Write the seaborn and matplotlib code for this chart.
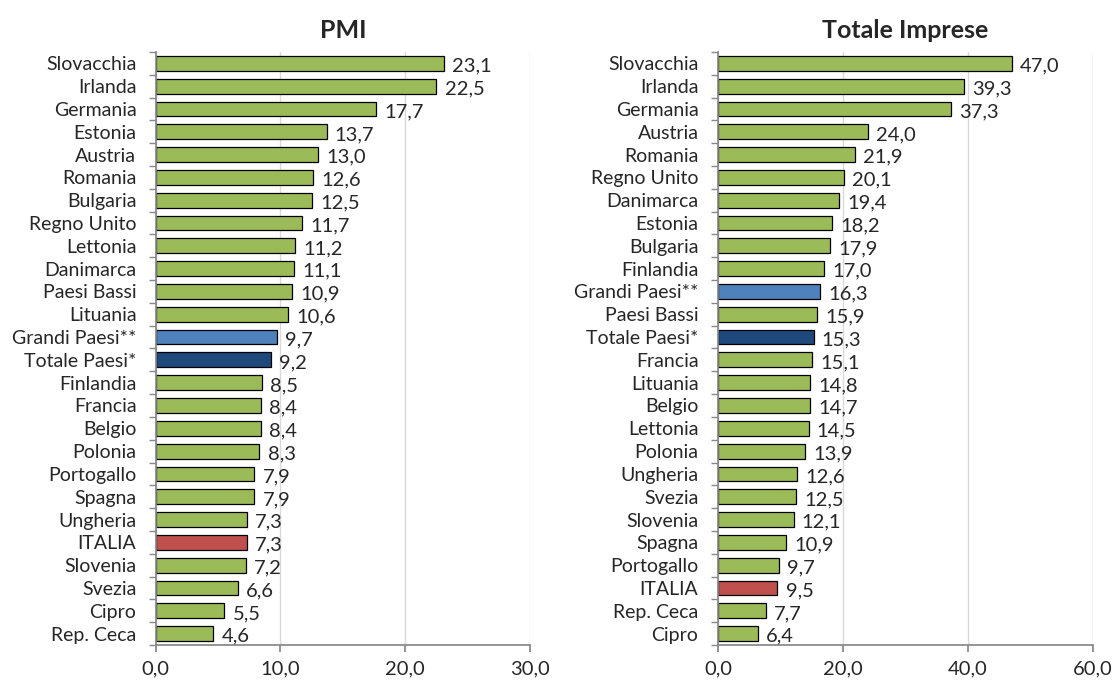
import numpy as np
import matplotlib
matplotlib.use("Agg")
import matplotlib.pyplot as plt
import seaborn as sns
import pandas as pd

# PMI
pmi_paesi = ["Slovacchia", "Irlanda", "Germania", "Estonia", "Austria", "Romania",
             "Bulgaria", "Regno Unito", "Lettonia", "Danimarca", "Paesi Bassi",
             "Lituania", "Grandi Paesi**", "Totale Paesi*", "Finlandia", "Francia",
             "Belgio", "Polonia", "Portogallo", "Spagna", "Ungheria", "ITALIA",
             "Slovenia", "Svezia", "Cipro", "Rep. Ceca"]
pmi_valori = [23.1, 22.5, 17.7, 13.7, 13.0, 12.6, 12.5, 11.7, 11.2, 11.1, 10.9,
              10.6, 9.7, 9.2, 8.5, 8.4, 8.4, 8.3, 7.9, 7.9, 7.3, 7.3, 7.2, 6.6,
              5.5, 4.6]

# Totale imprese
tot_paesi = ["Slovacchia", "Irlanda", "Germania", "Austria", "Romania", "Regno Unito",
             "Danimarca", "Estonia", "Bulgaria", "Finlandia", "Grandi Paesi**",
             "Paesi Bassi", "Totale Paesi*", "Francia", "Lituania", "Belgio",
             "Lettonia", "Polonia", "Ungheria", "Svezia", "Slovenia", "Spagna",
             "Portogallo", "ITALIA", "Rep. Ceca", "Cipro"]
tot_valori = [47.0, 39.3, 37.3, 24.0, 21.9, 20.1, 19.4, 18.2, 17.9, 17.0, 16.3,
              15.9, 15.3, 15.1, 14.8, 14.7, 14.5, 13.9, 12.6, 12.5, 12.1, 10.9,
              9.7, 9.5, 7.7, 6.4]

colori_speciali = {"ITALIA": "#C0504D", "Grandi Paesi**": "#4F81BD",
                   "Totale Paesi*": "#1F497D"}
verde = "#9BBB59"

sns.set_theme(style="white")
plt.rcParams["font.family"] = ["Lato", "DejaVu Sans"]

fig = plt.figure(figsize=(11.13, 6.88), dpi=100)
ax1 = fig.add_axes([0.140, 0.0625, 0.336, 0.862])
ax2 = fig.add_axes([0.645, 0.0625, 0.337, 0.862])


def pannello(ax, paesi, valori, titolo, xmax, step):
    df = pd.DataFrame({"paese": paesi, "valore": valori})
    pal = {p: colori_speciali.get(p, verde) for p in paesi}
    sns.barplot(data=df, x="valore", y="paese", hue="paese", palette=pal,
                legend=False, ax=ax, width=0.65, edgecolor="black",
                linewidth=0.9, saturation=1)
    for i, v in enumerate(valori):
        ax.text(v + xmax * 0.022, i + 0.12, f"{v:.1f}".replace(".", ","),
                va="center", ha="left", fontsize=14.5)
    ax.set_xlim(0, xmax)
    ax.set_ylim(len(paesi) - 0.5, -0.5)
    ticks = np.arange(0, xmax + step / 2, step)
    ax.set_xticks(ticks)
    ax.set_xticklabels([f"{t:.1f}".replace(".", ",") for t in ticks], fontsize=14.5)
    ax.set_yticks(range(len(paesi)))
    ax.set_yticklabels(paesi, fontsize=14)
    ax.set_yticks(np.arange(-0.5, len(paesi)), minor=True)
    ax.tick_params(axis="y", which="major", length=0, pad=14)
    ax.tick_params(axis="y", which="minor", length=5, color="#888888", left=True)
    ax.tick_params(axis="x", which="major", length=5, color="#888888", bottom=True,
                   pad=6)
    ax.grid(axis="x", color="#D9D9D9", linewidth=1)
    ax.set_axisbelow(True)
    for s in ["top", "right"]:
        ax.spines[s].set_visible(False)
    for s in ["left", "bottom"]:
        ax.spines[s].set_color("#888888")
    ax.set_xlabel("")
    ax.set_ylabel("")
    ax.set_title(titolo, fontsize=18, fontweight="bold", pad=10)


pannello(ax1, pmi_paesi, pmi_valori, "PMI", 30, 10)
pannello(ax2, tot_paesi, tot_valori, "Totale Imprese", 60, 20)

fig.savefig("out.png", dpi=100)
